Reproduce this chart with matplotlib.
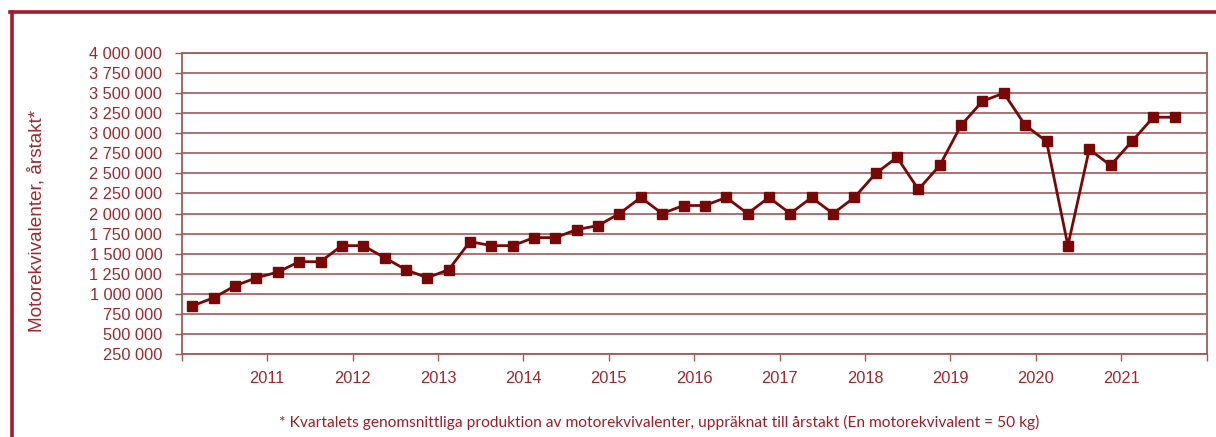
import matplotlib
matplotlib.use("Agg")
import matplotlib.pyplot as plt
from matplotlib.lines import Line2D

# ---- data ----
values = [850000, 950000, 1100000, 1200000, 1270000, 1400000, 1400000, 1600000,
          1600000, 1450000, 1300000, 1200000, 1300000, 1650000, 1600000, 1600000,
          1700000, 1700000, 1800000, 1850000, 2000000, 2200000, 2000000, 2100000,
          2100000, 2200000, 2000000, 2200000, 2000000, 2200000, 2000000, 2200000,
          2500000, 2700000, 2300000, 2600000, 3100000, 3400000, 3500000, 3100000,
          2900000, 1600000, 2800000, 2600000, 2900000, 3200000, 3200000]
year_labels = ["2011", "2012", "2013", "2014", "2015", "2016", "2017",
               "2018", "2019", "2020", "2021"]
y_ticks = [250000 * k for k in range(1, 17)]
ylabel = "Motorekvivalenter, årstakt*"
footnote = ("* Kvartalets genomsnittliga produktion av motorekvivalenter, "
            "uppräknat till årstakt (En motorekvivalent = 50 kg)")

# ---- styling ----
line_col = "#780808"
text_col = "#9c2a30"
grid_col = "#a86666"
spine_col = "#a05a5a"
border_col = "#a31d2c"

plt.rcParams["font.family"] = ["Liberation Sans", "DejaVu Sans"]

W, H = 1216, 437
fig = plt.figure(figsize=(W / 100, H / 100), dpi=100)
fig.patch.set_facecolor("white")

x0, x1, y0, y1 = 181.7, 1206.7, 53, 354
ax = fig.add_axes([x0 / W, 1 - y1 / H, (x1 - x0) / W, (y1 - y0) / H])

xs = list(range(len(values)))
ax.plot(xs, values, color=line_col, lw=2.0, marker="s", ms=6.6,
        markerfacecolor=line_col, markeredgecolor=line_col, zorder=3,
        clip_on=False)

n_slots = 48
ax.set_xlim(-0.5, n_slots - 0.5)
ax.set_ylim(y_ticks[0], y_ticks[-1])

ax.set_yticks(y_ticks)
ax.set_yticklabels([f"{v:,}".replace(",", " ") for v in y_ticks])
ax.yaxis.grid(True, color=grid_col, lw=1.3)
ax.set_axisbelow(True)

tick_pos = [-0.5 + 4 * k for k in range(n_slots // 4 + 1)]
ax.set_xticks(tick_pos)
ax.set_xticklabels([""] + year_labels + [""])

ax.tick_params(axis="both", direction="out", length=5, width=1.0,
               color=spine_col, labelcolor=text_col, labelsize=11.8)
ax.tick_params(axis="y", pad=9)
ax.tick_params(axis="x", pad=7)
for s in ax.spines.values():
    s.set_color(spine_col)
    s.set_linewidth(1.3)

fig.text(37 / W, 1 - 221 / H, ylabel, rotation=90, ha="center", va="center",
         color=text_col, fontsize=13.7)

fig.text(659 / W, 1 - 422 / H, footnote, ha="center", va="center",
         color="#a01c28", fontsize=11.2, family=["Lato", "DejaVu Sans"])

# outer frame (left and top lines)
fig.add_artist(Line2D([11.5 / W, 11.5 / W], [0, 1 - 11.5 / H],
                      transform=fig.transFigure, color=border_col, lw=2.6))
fig.add_artist(Line2D([10.2 / W, 1], [1 - 11.5 / H, 1 - 11.5 / H],
                      transform=fig.transFigure, color=border_col, lw=2.6))

fig.savefig("out.png", dpi=100)
